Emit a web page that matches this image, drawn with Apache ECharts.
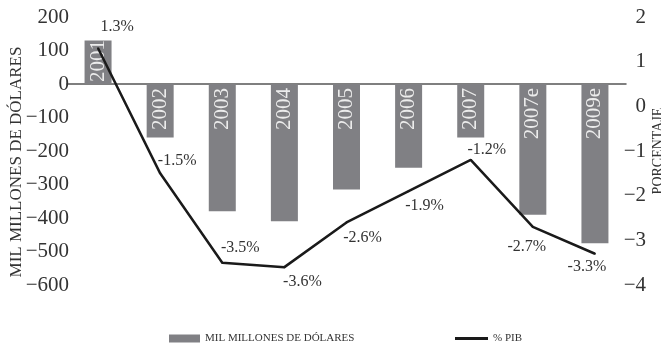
<!DOCTYPE html>
<html>
<head>
<meta charset="utf-8">
<script src="https://cdn.jsdelivr.net/npm/echarts@6/dist/echarts.min.js"></script>
<style>
  html, body { margin: 0; padding: 0; background: #fff; }
  #chart { width: 661px; height: 351px; }
</style>
</head>
<body>
<div id="chart"></div>
<script>
// Balance en miles de millones de dólares y como % del PIB
const years = ['2001', '2002', '2003', '2004', '2005', '2006', '2007', '2007e', '2009e'];
const balanceUSD = [130, -160, -380, -410, -315, -250, -160, -390, -475];
const pctPIB = [1.3, -1.5, -3.5, -3.6, -2.6, -1.9, -1.2, -2.7, -3.3];
const leftTicks = [-600, 200, 100];   // min, max, step
const rightTicks = [-4, 2, 1];        // min, max, step

// label placement for the % labels, relative to each point
const pctLabelOffset = [[19, -21], [17, -13], [18, -15], [18, 15], [16, 15], [16, 15], [16, -10], [-6, 20], [-8, 13]];

const SERIF = '"Liberation Serif", "DejaVu Serif", serif';
const minus = v => String(v).replace('-', '\u2212');

const chart = echarts.init(document.getElementById('chart'), null, { renderer: 'canvas' });

const barData = balanceUSD.map((v, i) => ({
  value: v,
  label: v >= 0
    ? { position: 'insideBottom', align: 'left', distance: 2 }
    : { position: 'insideTop', align: 'right', distance: 4 }
}));

const lineData = pctPIB.map((v, i) => ({
  value: v,
  label: { offset: pctLabelOffset[i] }
}));

chart.setOption({
  animation: false,
  backgroundColor: '#ffffff',
  textStyle: { fontFamily: SERIF },
  grid: { left: 67, right: 35, top: 17, bottom: 66, containLabel: false, outerBoundsMode: 'none' },
  legend: [
    {
      data: ['MIL MILLONES DE DÓLARES'],
      left: 164, bottom: 2,
      icon: 'rect', itemWidth: 31, itemHeight: 8, itemGap: 0,
      textStyle: { fontFamily: SERIF, fontSize: 11, color: '#333' }
    },
    {
      data: ['% PIB'],
      left: 450, bottom: 2,
      icon: 'rect', itemWidth: 33, itemHeight: 3, itemGap: 0,
      textStyle: { fontFamily: SERIF, fontSize: 11, color: '#333' }
    }
  ],
  xAxis: {
    type: 'category',
    data: years,
    axisLine: { show: true, onZero: true, lineStyle: { color: '#555', width: 1.5 } },
    axisTick: { show: false },
    axisLabel: { show: false },
    splitLine: { show: false }
  },
  yAxis: [
    {
      type: 'value',
      position: 'left',
      min: leftTicks[0], max: leftTicks[1], interval: leftTicks[2],
      name: 'MIL MILLONES DE DÓLARES',
      nameLocation: 'middle',
      nameRotate: 90,
      nameGap: 42,
      nameMoveOverlap: false,
      nameTextStyle: { fontFamily: SERIF, fontSize: 17, color: '#333', padding: [0, 22, 0, 0] },
      axisLine: { show: false },
      axisTick: { show: false },
      splitLine: { show: false },
      axisLabel: {
        fontFamily: SERIF, fontSize: 21, color: '#333', margin: -2,
        formatter: v => minus(v)
      }
    },
    {
      type: 'value',
      position: 'right',
      min: rightTicks[0], max: rightTicks[1], interval: rightTicks[2],
      name: 'PORCENTAJE',
      nameLocation: 'middle',
      nameRotate: 90,
      nameGap: 25,
      nameMoveOverlap: false,
      nameTextStyle: { fontFamily: SERIF, fontSize: 14, color: '#333' },
      axisLine: { show: false },
      axisTick: { show: false },
      splitLine: { show: false },
      axisLabel: {
        fontFamily: SERIF, fontSize: 21, color: '#333', margin: 20, align: 'right',
        formatter: v => minus(v)
      }
    }
  ],
  series: [
    {
      name: 'MIL MILLONES DE DÓLARES',
      type: 'bar',
      yAxisIndex: 0,
      data: barData,
      barWidth: 27,
      itemStyle: { color: '#808084' },
      label: {
        show: true,
        rotate: 90,
        verticalAlign: 'middle',
        fontFamily: SERIF,
        fontSize: 21,
        color: '#ececec',
        formatter: p => years[p.dataIndex]
      },
      z: 2
    },
    {
      name: '% PIB',
      type: 'line',
      yAxisIndex: 1,
      data: lineData,
      symbol: 'circle',
      symbolSize: 2,
      showSymbol: true,
      itemStyle: { color: '#1a1a1a' },
      lineStyle: { color: '#1a1a1a', width: 2.5 },
      label: {
        show: true,
        position: 'inside',
        fontFamily: SERIF,
        fontSize: 16,
        color: '#333',
        formatter: p => p.value + '%'
      },
      z: 3
    }
  ]
});
</script>
</body>
</html>
